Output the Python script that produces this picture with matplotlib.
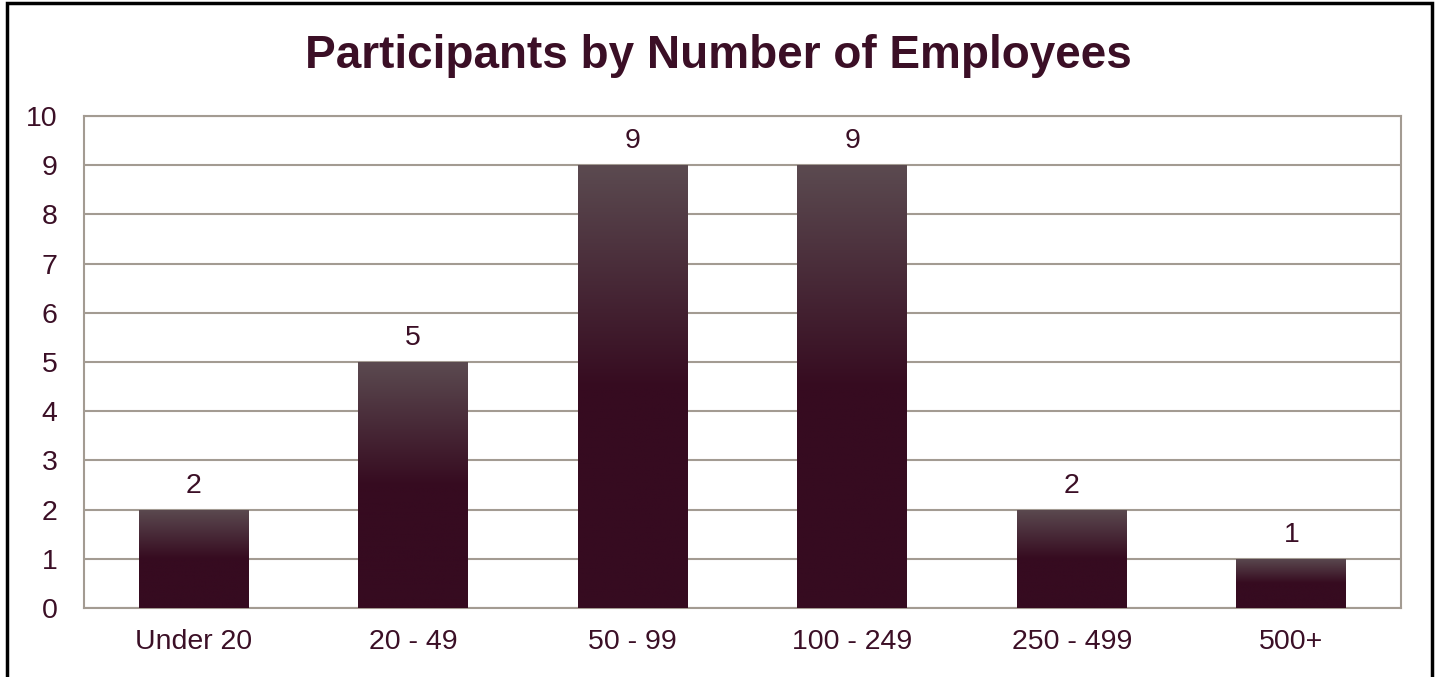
import numpy as np
import matplotlib.pyplot as plt
from matplotlib.colors import LinearSegmentedColormap
from matplotlib.patches import Rectangle

categories = ["Under 20", "20 - 49", "50 - 99", "100 - 249", "250 - 499", "500+"]
participants = [2, 5, 9, 9, 2, 1]

text_color = "#3b0f26"
grid_color = "#a39b92"
bar_top = "#5b4a50"
bar_bottom = "#360b20"

plt.rcParams['font.family'] = ['Liberation Sans', 'DejaVu Sans']

fig = plt.figure(figsize=(14.37, 6.77), dpi=100)
ax = fig.add_axes([84 / 1437, 1 - 608 / 677, (1401 - 84) / 1437, (608 - 116) / 677])

# gradient: top half of each bar fades into solid dark maroon
cmap = LinearSegmentedColormap.from_list("bar", [bar_bottom, bar_bottom, bar_top])
grad = np.linspace(0, 1, 256).reshape(-1, 1)

x = np.arange(len(categories))
width = 0.5
bars = ax.bar(x, participants, width=width, color=bar_bottom, zorder=3)
for b in bars:
    x0, y0 = b.get_x(), b.get_y()
    w, h = b.get_width(), b.get_height()
    im = ax.imshow(grad, cmap=cmap, aspect="auto", origin="lower",
                   extent=[x0, x0 + w, y0, y0 + h], zorder=3)
    im.set_clip_path(b)
    ax.text(x0 + w / 2, h + 0.22, str(int(h)), ha="center", va="bottom",
            fontsize=20.5, color=text_color)

ax.set_xlim(-0.5, len(categories) - 0.5)
ax.set_ylim(0, 10)
ax.set_yticks(range(0, 11))
ax.set_xticks(x)
ax.set_xticklabels(categories)
ax.tick_params(axis="both", length=0, labelsize=20.5, labelcolor=text_color)
ax.tick_params(axis="x", pad=15)
ax.tick_params(axis="y", pad=19)
ax.yaxis.grid(True, color=grid_color, linewidth=1.5, zorder=0)
ax.set_axisbelow(True)
for s in ax.spines.values():
    s.set_color(grid_color)
    s.set_linewidth(1.5)

fig.text(0.5, 1 - 68 / 677, "Participants by Number of Employees", ha="center",
         va="baseline", fontsize=33, fontweight="bold", color=text_color)

# outer border of the chart (open at the bottom edge)
fig.patches.append(Rectangle((7 / 1437, -10 / 677), 1425 / 1437, 684 / 677,
                             transform=fig.transFigure, fill=False,
                             edgecolor="black", linewidth=2.5))

fig.savefig("out.png", dpi=100)
